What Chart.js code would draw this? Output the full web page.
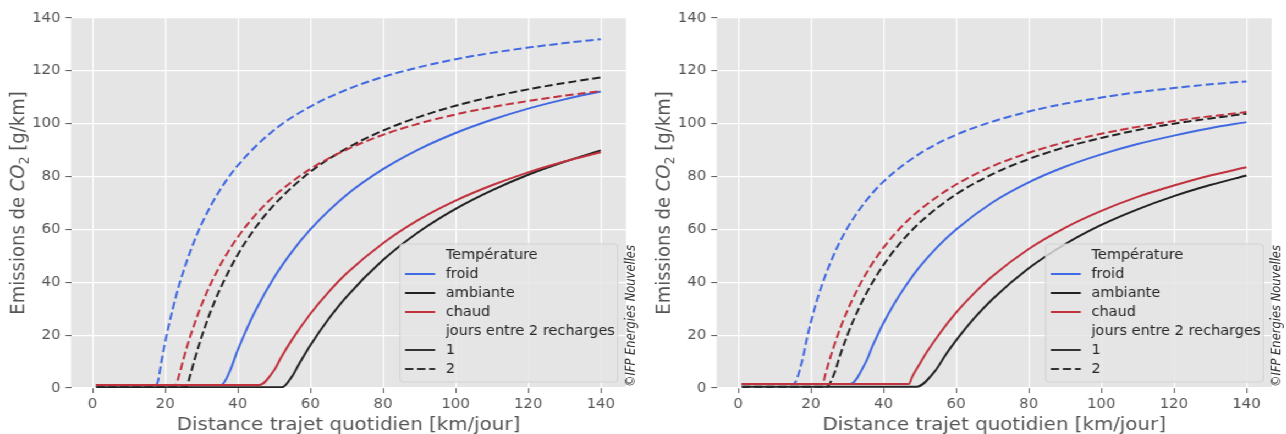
<!DOCTYPE html>
<html>
<head>
<meta charset="utf-8">
<script src="https://cdn.jsdelivr.net/npm/chart.js@4.4.1/dist/chart.umd.min.js"></script>
<style>
html,body{margin:0;padding:0;background:#fff;overflow:hidden;}
#wrap{position:relative;width:1169px;height:434px;transform:scaleX(1.1);transform-origin:0 0;}
canvas{position:absolute;top:0;}
</style>
</head>
<body>
<div id="wrap">
<canvas id="c1" width="585" height="434" style="left:0;width:585px;height:434px"></canvas>
<canvas id="c2" width="584" height="434" style="left:585px;width:584px;height:434px"></canvas>
</div>
<script>
// ---------- tick labels / categories ----------
const xTicks = [0, 20, 40, 60, 80, 100, 120, 140];
const yTicks = [0, 20, 40, 60, 80, 100, 120, 140];
const temperatures = ['froid', 'ambiante', 'chaud'];
const joursLabels = ['1', '2'];
const xTitle = 'Distance trajet quotidien [km/jour]';
const legendTitleTemp = 'Température';
const legendTitleJours = 'jours entre 2 recharges';
const copyright = '©IFP Energies Nouvelles';

// ---------- Panel 1 (left) ----------
const p1FroidJ1Km  = [1, 35.4, 37.7, 40, 42, 45, 50, 55, 60, 70, 80, 90, 100, 110, 120, 130, 140];
const p1FroidJ1Co2 = [1.1, 1.1, 6.0, 14.4, 20.9, 29.6, 41.8, 51.7, 60.0, 73.1, 82.8, 90.4, 96.5, 101.5, 105.7, 109.2, 112.2];
const p1FroidJ2Km  = [1, 17.5, 18, 19, 20, 22, 24, 27, 30, 35, 40, 50, 60, 70, 80, 90, 100, 110, 120, 130, 140];
const p1FroidJ2Co2 = [1.1, 1.1, 2.5, 10.3, 17.4, 29.5, 39.7, 52.0, 62.0, 74.7, 84.2, 97.6, 106.5, 112.9, 117.7, 121.4, 124.4, 126.8, 128.8, 130.5, 132.0];
const p1AmbJ1Km    = [1, 52.2, 55, 57, 60, 65, 70, 80, 90, 100, 110, 120, 130, 140];
const p1AmbJ1Co2   = [0.3, 0.3, 4.5, 9.4, 16.2, 26.1, 34.6, 48.4, 59.2, 67.8, 74.8, 80.7, 85.6, 89.9];
const p1AmbJ2Km    = [1, 25.7, 27, 28, 30, 32, 35, 40, 45, 50, 60, 70, 80, 90, 100, 110, 120, 130, 140];
const p1AmbJ2Co2   = [0.3, 0.3, 5.3, 10.3, 19.2, 27.1, 37.1, 50.5, 60.9, 69.3, 81.8, 90.7, 97.4, 102.6, 106.8, 110.2, 113.0, 115.4, 117.5];
const p1ChaudJ1Km  = [1, 45.9, 50, 52, 55, 60, 65, 70, 80, 90, 100, 110, 120, 130, 140];
const p1ChaudJ1Co2 = [1.1, 1.1, 6.7, 11.7, 18.4, 28.1, 36.3, 43.4, 54.8, 63.8, 70.9, 76.7, 81.6, 85.7, 89.2];
const p1ChaudJ2Km  = [1, 22.8, 24, 25, 27, 30, 33, 36, 40, 45, 50, 60, 70, 80, 90, 100, 110, 120, 130, 140];
const p1ChaudJ2Co2 = [1.1, 1.1, 5.6, 10.8, 19.9, 31.4, 40.7, 48.5, 57.1, 65.7, 72.6, 82.9, 90.2, 95.8, 100.1, 103.5, 106.3, 108.6, 110.6, 112.3];

// ---------- Panel 2 (right) ----------
const p2FroidJ1Km  = [1, 30.8, 35.1, 37, 40, 43, 46, 50, 55, 60, 70, 80, 90, 100, 110, 120, 130, 140];
const p2FroidJ1Co2 = [1.5, 1.5, 9.7, 15.9, 24.6, 32.0, 38.4, 45.9, 53.6, 60.0, 70.2, 77.8, 83.7, 88.4, 92.3, 95.5, 98.3, 100.6];
const p2FroidJ2Km  = [1, 15.2, 17.5, 19, 20, 22, 24, 27, 30, 35, 40, 50, 60, 70, 80, 90, 100, 110, 120, 130, 140];
const p2FroidJ2Co2 = [1.5, 1.5, 9.7, 19.3, 24.9, 34.6, 42.6, 52.5, 60.4, 70.5, 78.1, 88.7, 95.8, 100.8, 104.6, 107.6, 109.9, 111.9, 113.5, 114.9, 116.0];
const p2AmbJ1Km    = [1, 49.1, 54.3, 57, 60, 65, 70, 80, 90, 100, 110, 120, 130, 140];
const p2AmbJ1Co2   = [0.5, 0.5, 6.6, 12.3, 18.0, 26.4, 33.6, 45.3, 54.4, 61.7, 67.6, 72.6, 76.8, 80.4];
const p2AmbJ2Km    = [1, 24.4, 26.5, 28, 30, 32, 35, 38, 42, 46, 50, 60, 70, 80, 90, 100, 110, 120, 130, 140];
const p2AmbJ2Co2   = [0.5, 0.5, 5.7, 12.2, 19.8, 26.5, 35.1, 42.3, 50.4, 57.0, 62.6, 73.3, 80.9, 86.6, 91.1, 94.6, 97.6, 100.0, 102.0, 103.8];
const p2ChaudJ1Km  = [1, 47.0, 47.9, 50, 52, 55, 60, 65, 70, 80, 90, 100, 110, 120, 130, 140];
const p2ChaudJ1Co2 = [1.5, 1.5, 4.2, 9.2, 13.7, 19.7, 28.5, 35.9, 42.3, 52.6, 60.6, 67.0, 72.3, 76.6, 80.4, 83.5];
const p2ChaudJ2Km  = [1, 23.2, 24, 25, 26, 28, 30, 33, 36, 40, 45, 50, 60, 70, 80, 90, 100, 110, 120, 130, 140];
const p2ChaudJ2Co2 = [1.5, 1.5, 5.2, 10.0, 14.4, 22.3, 29.1, 37.8, 45.1, 53.1, 61.1, 67.4, 77.0, 83.9, 89.0, 93.0, 96.2, 98.8, 101.0, 102.8, 104.4];

// ---------- styles ----------
const FONT = "'DejaVu Sans', 'Liberation Sans', sans-serif";
const BLUE = '#4169E1';
const BLACK = '#222222';
const RED = '#C0323E';
const DASH = [7.5, 3.5];
const tempColors = [BLUE, BLACK, RED];

function pts(km, co2) { return km.map((x, i) => ({ x: x, y: co2[i] })); }
function ds(label, km, co2, color, dashed) {
  return {
    label: label, data: pts(km, co2), borderColor: color, backgroundColor: color,
    borderWidth: 2, borderDash: dashed ? DASH : [], pointRadius: 0, pointHoverRadius: 0,
    cubicInterpolationMode: 'monotone', fill: false, borderCapStyle: 'butt'
  };
}

const deco = {
  id: 'deco',
  beforeDraw(chart) {
    const { ctx, chartArea: a } = chart;
    ctx.save();
    ctx.fillStyle = '#E5E5E5';
    ctx.fillRect(a.left, a.top, a.right - a.left, a.bottom - a.top);
    ctx.restore();
  },
  afterDraw(chart) {
    const { ctx, chartArea: a } = chart;
    // ---- legend ----
    const L = { left: a.right - 205.5, right: a.right - 7.6, top: 244, bottom: 382 };
    ctx.save();
    ctx.beginPath();
    if (ctx.roundRect) ctx.roundRect(L.left, L.top, L.right - L.left, L.bottom - L.top, 3);
    else ctx.rect(L.left, L.top, L.right - L.left, L.bottom - L.top);
    ctx.fillStyle = 'rgba(229,229,229,0.8)';
    ctx.fill();
    ctx.strokeStyle = '#D2D2D2';
    ctx.lineWidth = 1;
    ctx.stroke();
    const rows = [{ t: legendTitleTemp }];
    temperatures.forEach((t, i) => rows.push({ t: t, c: tempColors[i], d: [] }));
    rows.push({ t: legendTitleJours });
    joursLabels.forEach((t, i) => rows.push({ t: t, c: '#333333', d: i === 0 ? [] : DASH }));
    ctx.font = `13.2px ${FONT}`;
    ctx.textBaseline = 'middle';
    ctx.textAlign = 'left';
    rows.forEach((r, i) => {
      const y = 255 + i * 19;
      if (r.c) {
        ctx.beginPath();
        ctx.setLineDash(r.d);
        ctx.strokeStyle = r.c;
        ctx.lineWidth = 2;
        ctx.moveTo(L.left + 4.6, y);
        ctx.lineTo(L.left + 31.9, y);
        ctx.stroke();
        ctx.setLineDash([]);
      }
      ctx.fillStyle = '#262626';
      ctx.fillText(r.t, L.left + 41.6, y + 0.5);
    });
    ctx.restore();

    // ---- x title ----
    ctx.save();
    ctx.font = `18px ${FONT}`;
    ctx.fillStyle = '#555555';
    ctx.textAlign = 'center';
    ctx.textBaseline = 'alphabetic';
    ctx.fillText(xTitle, (a.left + a.right) / 2, 430);
    ctx.restore();

    // ---- y title (with italic CO and subscript 2) ----
    ctx.save();
    ctx.translate(a.left - 42.5, (a.top + a.bottom) / 2);
    ctx.rotate(-Math.PI / 2);
    ctx.fillStyle = '#555555';
    ctx.textBaseline = 'alphabetic';
    ctx.textAlign = 'left';
    const segs = [
      { t: 'Emissions de ', f: `18px ${FONT}`, dy: 0 },
      { t: 'CO', f: `italic 18px ${FONT}`, dy: 0 },
      { t: '2', f: `12.6px ${FONT}`, dy: 3.5 },
      { t: ' [g/km]', f: `18px ${FONT}`, dy: 0 }
    ];
    let total = 0;
    segs.forEach(s => { ctx.font = s.f; s.w = ctx.measureText(s.t).width; total += s.w; });
    let x = -total / 2;
    segs.forEach(s => { ctx.font = s.f; ctx.fillText(s.t, x, s.dy); x += s.w; });
    ctx.restore();

    // ---- copyright ----
    ctx.save();
    ctx.translate(a.right + 5, 387);
    ctx.rotate(-Math.PI / 2);
    ctx.font = `italic 11.5px ${FONT}`;
    ctx.fillStyle = '#2a2a2a';
    ctx.textAlign = 'left';
    ctx.textBaseline = 'middle';
    ctx.fillText(copyright, 0, 0);
    ctx.restore();
  }
};

function makePanel(id, datasets, yWidth, padRight) {
  return new Chart(document.getElementById(id), {
    type: 'line',
    data: { datasets: datasets },
    plugins: [deco],
    options: {
      responsive: false,
      animation: false,
      devicePixelRatio: 1,
      events: [],
      layout: { padding: { left: 0, right: padRight, top: 18, bottom: 0 } },
      plugins: { legend: { display: false }, tooltip: { enabled: false }, title: { display: false } },
      scales: {
        x: {
          type: 'linear', min: -5.95, max: 146.95,
          afterBuildTicks: s => { s.ticks = xTicks.map(v => ({ value: v })); },
          afterFit: s => { s.height = 46; },
          grid: { color: '#FFFFFF', lineWidth: 1.2, tickColor: '#555555', tickLength: 5, tickWidth: 1, drawTicks: true },
          border: { display: false },
          ticks: { color: '#555555', font: { family: FONT, size: 13.5 }, padding: 3, maxRotation: 0, autoSkip: false }
        },
        y: {
          type: 'linear', min: 0, max: 140,
          afterBuildTicks: s => { s.ticks = yTicks.map(v => ({ value: v })); },
          afterFit: s => { s.width = yWidth; },
          grid: { color: '#FFFFFF', lineWidth: 1.2, tickColor: '#555555', tickLength: 5, tickWidth: 1, drawTicks: true },
          border: { display: false },
          ticks: { color: '#555555', font: { family: FONT, size: 13.5 }, padding: 4.5 }
        }
      }
    }
  });
}

// draw order: first dataset is drawn on top
makePanel('c1', [
  ds('chaud 1', p1ChaudJ1Km, p1ChaudJ1Co2, RED, false),
  ds('chaud 2', p1ChaudJ2Km, p1ChaudJ2Co2, RED, true),
  ds('ambiante 1', p1AmbJ1Km, p1AmbJ1Co2, BLACK, false),
  ds('ambiante 2', p1AmbJ2Km, p1AmbJ2Co2, BLACK, true),
  ds('froid 1', p1FroidJ1Km, p1FroidJ1Co2, BLUE, false),
  ds('froid 2', p1FroidJ2Km, p1FroidJ2Co2, BLUE, true)
], 64.5, 15.9);

makePanel('c2', [
  ds('chaud 1', p2ChaudJ1Km, p2ChaudJ1Co2, RED, false),
  ds('chaud 2', p2ChaudJ2Km, p2ChaudJ2Co2, RED, true),
  ds('ambiante 1', p2AmbJ1Km, p2AmbJ1Co2, BLACK, false),
  ds('ambiante 2', p2AmbJ2Km, p2AmbJ2Co2, BLACK, true),
  ds('froid 1', p2FroidJ1Km, p2FroidJ1Co2, BLUE, false),
  ds('froid 2', p2FroidJ2Km, p2FroidJ2Co2, BLUE, true)
], 66.5, 12.9);
</script>
</body>
</html>
